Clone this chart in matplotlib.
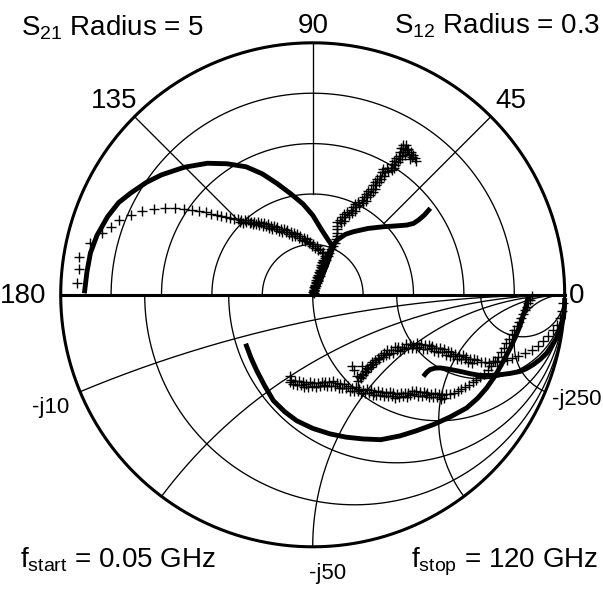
import numpy as np
import matplotlib
matplotlib.use("Agg")
import matplotlib.pyplot as plt

plt.rcParams['font.family'] = ['Liberation Sans', 'DejaVu Sans']
plt.rcParams['mathtext.fontset'] = 'custom'
plt.rcParams['mathtext.rm'] = 'Liberation Sans'
plt.rcParams['mathtext.it'] = 'Liberation Sans:italic'
plt.rcParams['mathtext.bf'] = 'Liberation Sans:bold'

# ---------------- data ----------------
S21_RADIUS = 5.0
S12_RADIUS = 0.3

# S21 model (real, imag)
s21_model_re = [-4.53, -4.48, -4.41, -4.28, -4.07, -3.85, -3.61, -3.30, -3.00, -2.55, -2.09,
                -1.70, -1.32, -1.00, -0.71, -0.43, -0.19, 0.00, 0.17, 0.30, 0.40, 0.30, 0.18, 0.04]
s21_model_im = [0.03, 0.45, 0.83, 1.18, 1.55, 1.83, 2.02, 2.23, 2.38, 2.53, 2.61,
                2.60, 2.54, 2.40, 2.21, 2.00, 1.80, 1.58, 1.30, 1.10, 0.95, 0.65, 0.35, 0.05]

# S21 measured (real, imag)
s21_meas_re = [-4.68, -4.645, -4.635, -4.42, -4.18, -4.00, -3.84, -3.61, -3.38, -3.15, -2.925,
               -2.725, -2.55, -2.39, -2.25, -2.125, -2.01, -1.905, -1.81, -1.72, -1.635, -1.555,
               -1.48, -1.448, -1.415, -1.383, -1.35, -1.318, -1.285, -1.253, -1.22, -1.188,
               -1.155, -1.123, -1.09, -1.058, -1.025, -0.993, -0.96, -0.928, -0.895, -0.863,
               -0.83, -0.798, -0.765, -0.733, -0.70, -0.668, -0.635, -0.603, -0.57, -0.538,
               -0.505, -0.473, -0.44, -0.408, -0.375, -0.343, -0.31, -0.278, -0.245, -0.213,
               -0.18, -0.148, -0.115, -0.083, -0.05, -0.018, 0.015, 0.048, 0.08, 0.113, 0.145,
               0.178, 0.21, 0.235,
               0.245, 0.20, 0.23, 0.18, 0.21, 0.165, 0.20, 0.155, 0.18, 0.135, 0.16, 0.12, 0.15,
               0.11, 0.135, 0.09, 0.115, 0.07, 0.105, 0.06, 0.09, 0.045, 0.07, 0.03, 0.05, 0.02,
               0.03, 0.01]
s21_meas_im = [0.23, 0.52, 0.75, 1.025, 1.22, 1.35, 1.475, 1.585, 1.655, 1.70, 1.72,
               1.72, 1.70, 1.685, 1.655, 1.635, 1.605, 1.59, 1.56, 1.545, 1.515, 1.505,
               1.505, 1.445, 1.485, 1.43, 1.485, 1.435, 1.48, 1.415, 1.45, 1.395,
               1.445, 1.40, 1.445, 1.375, 1.42, 1.36, 1.415, 1.36, 1.405, 1.335,
               1.365, 1.305, 1.36, 1.305, 1.35, 1.275, 1.315, 1.25, 1.30, 1.245,
               1.285, 1.215, 1.24, 1.175, 1.225, 1.165, 1.21, 1.13, 1.165, 1.09,
               1.135, 1.07, 1.10, 1.02, 1.04, 0.97, 1.01, 0.935, 0.96, 0.88, 0.90,
               0.83, 0.845, 0.77,
               0.725, 0.70, 0.675, 0.65, 0.625, 0.60, 0.575, 0.55, 0.525, 0.50, 0.475, 0.45, 0.425,
               0.40, 0.375, 0.35, 0.325, 0.30, 0.275, 0.25, 0.225, 0.20, 0.175, 0.15, 0.125, 0.10,
               0.075, 0.05]

# S12 model (real, imag)
s12_model_re = [0.000, 0.004, 0.008, 0.013, 0.018, 0.024, 0.030, 0.039, 0.048, 0.066, 0.084,
                0.099, 0.112, 0.120, 0.126, 0.133, 0.140]
s12_model_im = [0.002, 0.012, 0.024, 0.036, 0.048, 0.059, 0.066, 0.072, 0.075, 0.079, 0.081,
                0.082, 0.083, 0.085, 0.089, 0.095, 0.103]

# S12 measured (real, imag)
s12_meas_re = [0.001, 0.002, 0.003, 0.004, 0.006, 0.007, 0.009, 0.010, 0.012, 0.014, 0.016,
               0.018, 0.020, 0.022, 0.024, 0.026, 0.0276, 0.029, 0.029, 0.0285, 0.029,
               0.0288, 0.0339, 0.0327, 0.0373, 0.0352, 0.0388, 0.0377, 0.0428, 0.0411, 0.0462,
               0.0453, 0.0499, 0.0481, 0.0517, 0.0506, 0.0557, 0.0543, 0.0594, 0.0585, 0.0631,
               0.0613, 0.0649, 0.0632, 0.0683, 0.0663, 0.0714, 0.0699, 0.0742, 0.0721, 0.0754,
               0.0740, 0.0788, 0.0768, 0.0816, 0.0801, 0.0847, 0.0823, 0.0856, 0.0839, 0.0896,
               0.0882, 0.0939, 0.0930, 0.0973, 0.0949, 0.0982, 0.0965, 0.1016, 0.0996, 0.1044,
               0.1029, 0.1069, 0.1045, 0.1075, 0.1055, 0.1103, 0.1080,
               0.1119, 0.1149, 0.1179, 0.1230, 0.1200, 0.1140, 0.1101, 0.1161, 0.1071, 0.1170,
               0.1116, 0.1215]
s12_meas_im = [0.002, 0.006, 0.010, 0.014, 0.018, 0.022, 0.026, 0.030, 0.034, 0.038, 0.042,
               0.046, 0.050, 0.054, 0.058, 0.062, 0.066, 0.070, 0.074, 0.078, 0.082,
               0.0867, 0.0852, 0.0890, 0.0879, 0.0924, 0.0921, 0.0963, 0.0948, 0.0990, 0.0975,
               0.1013, 0.1002, 0.1047, 0.1044, 0.1083, 0.1068, 0.1107, 0.1092, 0.1130, 0.1119,
               0.1164, 0.1161, 0.1203, 0.1191, 0.1236, 0.1224, 0.1265, 0.1257, 0.1305, 0.1305,
               0.1347, 0.1338, 0.1383, 0.1374, 0.1415, 0.1410, 0.1458, 0.1461, 0.1503, 0.1479,
               0.1512, 0.1485, 0.1514, 0.1506, 0.1554, 0.1551, 0.1593, 0.1581, 0.1626, 0.1611,
               0.1652, 0.1647, 0.1698, 0.1701, 0.1746, 0.1737, 0.1785,
               0.1719, 0.1680, 0.1641, 0.1590, 0.1659, 0.1731, 0.1659, 0.1620, 0.1749, 0.1695,
               0.1785, 0.1626]

# S11 model (reflection coefficient, real, imag)
s11_model_re = [-0.266, -0.245, -0.222, -0.190, -0.156, -0.110, -0.063, 0.000, 0.069, 0.133,
                0.200, 0.270, 0.346, 0.410, 0.479, 0.545, 0.611, 0.655, 0.690, 0.725, 0.756,
                0.782, 0.803, 0.822, 0.836, 0.848, 0.856]
s11_model_im = [-0.194, -0.250, -0.301, -0.362, -0.420, -0.465, -0.500, -0.530, -0.552, -0.565,
                -0.572, -0.575, -0.560, -0.540, -0.515, -0.485, -0.449, -0.410, -0.370, -0.320,
                -0.264, -0.215, -0.171, -0.125, -0.079, -0.040, -0.003]

# S11 measured
s11_meas_re = [0.869, 0.863, 0.856, 0.849, 0.842, 0.835, 0.827, 0.818, 0.809, 0.799, 0.789,
               0.779, 0.769, 0.758, 0.747, 0.735, 0.722, 0.709, 0.695, 0.680, 0.665, 0.650,
               0.635, 0.620, 0.605, 0.590, 0.575, 0.560, 0.545,
               0.530, 0.523, 0.515, 0.508, 0.500, 0.493, 0.485, 0.478, 0.470, 0.463, 0.455,
               0.448, 0.440, 0.433, 0.425, 0.418, 0.410, 0.403, 0.395, 0.388, 0.380, 0.373,
               0.365, 0.358, 0.350, 0.343, 0.335, 0.328, 0.320, 0.313, 0.305, 0.298, 0.290,
               0.283, 0.275, 0.268, 0.260, 0.253, 0.245, 0.238, 0.230, 0.223, 0.215, 0.208,
               0.200, 0.193, 0.185, 0.178, 0.170, 0.163, 0.155, 0.148, 0.140, 0.133, 0.125,
               0.118, 0.110, 0.103, 0.095, 0.088, 0.080, 0.073, 0.065, 0.058, 0.050, 0.043,
               0.035, 0.028, 0.020, 0.013, 0.005, -0.003, -0.010, -0.018, -0.025, -0.033,
               -0.040, -0.048, -0.055, -0.063, -0.070, -0.078, -0.085, -0.090, -0.092]
s11_meas_im = [-0.006, -0.020, -0.034, -0.048, -0.062, -0.076, -0.091, -0.106, -0.122, -0.139,
               -0.156, -0.174, -0.192, -0.210, -0.228, -0.246, -0.264, -0.281, -0.298, -0.313,
               -0.326, -0.337, -0.347, -0.357, -0.366, -0.374, -0.382, -0.388, -0.394,
               -0.394, -0.409, -0.399, -0.412, -0.393, -0.404, -0.389, -0.405, -0.393, -0.407,
               -0.388, -0.397, -0.384, -0.400, -0.386, -0.400, -0.381, -0.394, -0.380, -0.399,
               -0.388, -0.405, -0.388, -0.400, -0.388, -0.407, -0.393, -0.409, -0.389, -0.401,
               -0.386, -0.403, -0.390, -0.403, -0.385, -0.396, -0.380, -0.397, -0.384, -0.397,
               -0.378, -0.389, -0.374, -0.391, -0.377, -0.391, -0.373, -0.383, -0.366, -0.382,
               -0.368, -0.380, -0.360, -0.370, -0.354, -0.370, -0.355, -0.368, -0.349, -0.360,
               -0.344, -0.361, -0.348, -0.362, -0.345, -0.358, -0.345, -0.363, -0.350, -0.366,
               -0.349, -0.362, -0.347, -0.366, -0.354, -0.367, -0.348, -0.358, -0.343, -0.357,
               -0.342, -0.355, -0.339, -0.348, -0.322]

# S22 model
s22_model_re = [0.439, 0.452, 0.465, 0.485, 0.505, 0.545, 0.585, 0.625, 0.664, 0.703, 0.743,
                0.783, 0.823, 0.850, 0.875, 0.903, 0.929, 0.950, 0.968, 0.983, 0.995, 0.999, 1.000]
s22_model_im = [-0.324, -0.308, -0.297, -0.291, -0.290, -0.296, -0.304, -0.313, -0.320, -0.320,
                -0.317, -0.312, -0.304, -0.292, -0.277, -0.256, -0.231, -0.200, -0.171, -0.130,
                -0.092, -0.050, -0.013]

# S22 measured
s22_meas_re = [0.995, 0.988, 0.981, 0.968, 0.955, 0.935, 0.915, 0.895, 0.869, 0.842, 0.816,
               0.790, 0.770, 0.750, 0.732, 0.716, 0.700, 0.684, 0.668, 0.652,
               0.640, 0.633, 0.625, 0.618, 0.610, 0.603, 0.595, 0.588, 0.580, 0.573, 0.565,
               0.558, 0.550, 0.543, 0.535, 0.528, 0.520, 0.513, 0.505, 0.498, 0.490, 0.483,
               0.475, 0.468, 0.460, 0.453, 0.445, 0.438, 0.430, 0.423, 0.415, 0.408, 0.400,
               0.393, 0.385, 0.378, 0.370, 0.363, 0.355, 0.348, 0.340, 0.333, 0.325, 0.318,
               0.310, 0.303, 0.295,
               0.289, 0.283, 0.277, 0.271, 0.265, 0.259, 0.253, 0.247, 0.241, 0.236, 0.231,
               0.226, 0.221, 0.216, 0.211, 0.206, 0.201, 0.196, 0.191, 0.186, 0.181,
               0.175, 0.155, 0.194, 0.165]
s22_meas_im = [-0.033, -0.066, -0.092, -0.119, -0.138, -0.165, -0.185, -0.204, -0.218, -0.231,
               -0.244, -0.251, -0.259, -0.262, -0.268, -0.264, -0.270, -0.265, -0.266, -0.259,
               -0.256, -0.269, -0.255, -0.266, -0.246, -0.256, -0.240, -0.255, -0.241, -0.254,
               -0.233, -0.241, -0.227, -0.241, -0.225, -0.238, -0.217, -0.227, -0.210, -0.226,
               -0.211, -0.224, -0.204, -0.213, -0.198, -0.215, -0.200, -0.215, -0.195, -0.206,
               -0.192, -0.210, -0.198, -0.213, -0.197, -0.210, -0.196, -0.216, -0.206, -0.222,
               -0.206, -0.221, -0.209, -0.229, -0.218, -0.235, -0.221,
               -0.238, -0.231, -0.247, -0.239, -0.255, -0.249, -0.266, -0.257, -0.274, -0.268,
               -0.285, -0.277, -0.295, -0.290, -0.308, -0.301, -0.319, -0.314, -0.332, -0.325,
               -0.342, -0.321, -0.281, -0.281, -0.300]

# grid values
polar_rings = [0.2, 0.4, 0.6, 0.8]
polar_spokes_deg = [45, 90, 135]
smith_r = [0.2, 0.5, 1.0, 2.0, 5.0]
smith_x = [-0.2, -0.5, -1.0, -2.0, -5.0]

# ---------------- figure ----------------
W, H = 603, 592
CX, CY, R = 312.7, 294.8, 252.0
fig = plt.figure(figsize=(W / 100, H / 100), dpi=100)
ax = fig.add_axes([0, 0, 1, 1])
ax.set_xlim(-CX / R, (W - CX) / R)
ax.set_ylim(-(H - CY) / R, CY / R)
ax.axis('off')

GRID_LW = 0.95
k = 'black'

# polar grid (upper half)
th = np.linspace(0, np.pi, 300)
for rr in polar_rings:
    ax.plot(rr * np.cos(th), rr * np.sin(th), color=k, lw=GRID_LW)
for a in polar_spokes_deg:
    t = np.deg2rad(a)
    ax.plot([0.4 * np.cos(t), np.cos(t)], [0.4 * np.sin(t), np.sin(t)], color=k, lw=GRID_LW)

# smith grid (lower half)
th2 = np.linspace(np.pi, 2 * np.pi, 300)
for r in smith_r:
    c = r / (1 + r)
    rad = 1 / (1 + r)
    ax.plot(c + rad * np.cos(th2), rad * np.sin(th2), color=k, lw=GRID_LW)
rvals = np.concatenate([[0.0], np.geomspace(1e-3, 1e4, 800)])
for x in smith_x:
    z = rvals + 1j * x
    g = (z - 1) / (z + 1)
    ax.plot(g.real, g.imag, color=k, lw=GRID_LW)

# outer circle and real axis
tf = np.linspace(0, 2 * np.pi, 600)
ax.plot(np.cos(tf), np.sin(tf), color=k, lw=2.2)
ax.plot([-1, 1], [0, 0], color=k, lw=2.2)

# data
MLW = 3.5
ms = dict(marker='+', ls='none', color=k, ms=7.5, mew=1.0)
ax.plot(np.array(s21_model_re) / S21_RADIUS, np.array(s21_model_im) / S21_RADIUS, color=k, lw=MLW,
        solid_capstyle='butt')
ax.plot(np.array(s21_meas_re) / S21_RADIUS, np.array(s21_meas_im) / S21_RADIUS, **ms)
ax.plot(np.array(s12_model_re) / S12_RADIUS, np.array(s12_model_im) / S12_RADIUS, color=k, lw=MLW,
        solid_capstyle='butt')
ax.plot(np.array(s12_meas_re) / S12_RADIUS, np.array(s12_meas_im) / S12_RADIUS, **ms)
ax.plot(s11_model_re, s11_model_im, color=k, lw=MLW, solid_capstyle='butt')
ax.plot(s11_meas_re, s11_meas_im, **ms)
ax.plot(s22_model_re, s22_model_im, color=k, lw=MLW, solid_capstyle='butt')
ax.plot(s22_meas_re, s22_meas_im, **ms)

# text
BIG = 20
SMALL = 16


def t(X, Y, s, size=BIG, ha='center', va='baseline'):
    fig.text(X / W, 1 - Y / H, s, fontsize=size, ha=ha, va=va)


t(21, 35, r'S$_{21}$ Radius = 5', ha='left')
t(313, 33, '90')
t(600, 33, r'S$_{12}$ Radius = 0.3', ha='right')
t(114, 108, '135')
t(511, 108, '45')
t(0, 303, '180', ha='left')
t(569, 303, '0', ha='left')
t(51, 413, '-j10', size=SMALL)
t(577, 405, '-j250', size=SMALL)
t(328, 579, '-j50', size=SMALL)
t(20, 567, r'f$_{\mathrm{start}}$ = 0.05 GHz', ha='left')
t(598, 567, r'f$_{\mathrm{stop}}$ = 120 GHz', ha='right')

fig.savefig('out.png', dpi=100, facecolor='white')
